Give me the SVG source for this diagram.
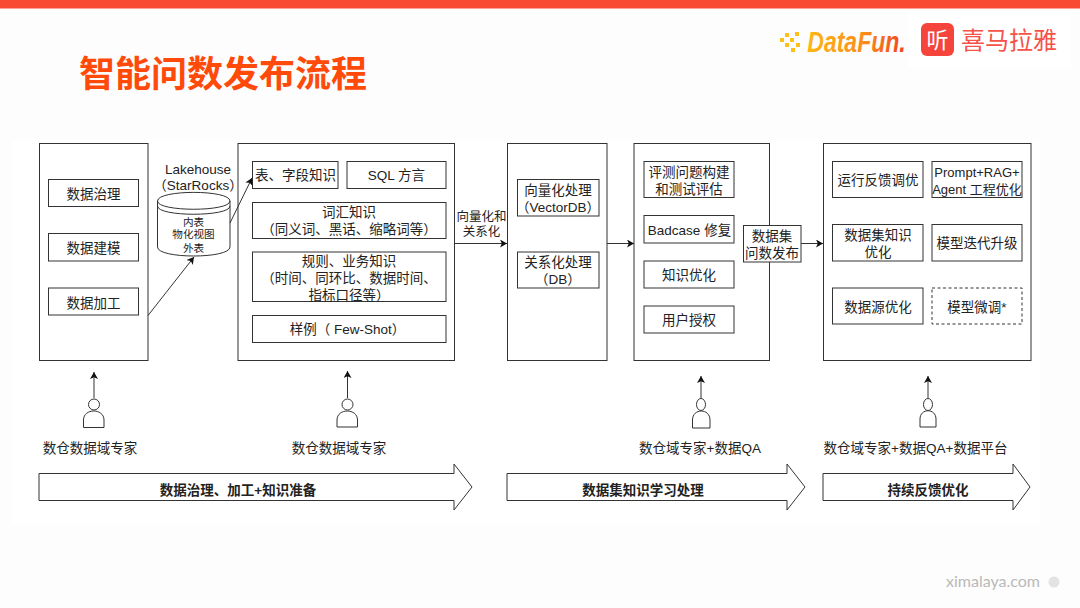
<svg xmlns="http://www.w3.org/2000/svg" width="1080" height="608" viewBox="0 0 1080 608">
<style>
text{font-family:"Liberation Sans","Noto Sans CJK SC",sans-serif;fill:#222;font-size:13.5px;text-anchor:middle}
.b{fill:#fff;stroke:#333;stroke-width:1}
.c{fill:none;stroke:#333;stroke-width:1}
.s{font-size:10.6px}
.h{font-weight:bold}
.m{font-size:12.5px}
.n{font-size:13px}
</style>
<defs>
<marker id="ah" markerWidth="9" markerHeight="9" refX="7" refY="4" orient="auto" markerUnits="userSpaceOnUse"><path d="M0 0L7 4L0 8L1.8 4Z" fill="#111"/></marker>
<linearGradient id="df" x1="0" x2="1" y1="0" y2="0"><stop offset="0" stop-color="#fdb813"/><stop offset="0.6" stop-color="#fb8a1a"/><stop offset="1" stop-color="#f0431e"/></linearGradient>
</defs>
<rect width="1080" height="608" fill="#fdfdfd"/>
<rect width="1080" height="8.5" fill="#f94a34"/>
<rect x="908" y="12" width="163" height="55" fill="#fff"/>
<rect x="12" y="140" width="1028" height="385" fill="#fff"/>
<text x="223" y="87" style="font-size:36px;font-weight:bold;fill:#ff4a0a;font-family:'Noto Sans CJK SC',sans-serif">智能问数发布流程</text>
<g id="logo-datafun">
<g fill="#fdc01a"><rect x="780" y="38" width="4" height="4"/><rect x="785" y="33" width="4" height="4"/><rect x="785" y="43" width="4" height="4"/><rect x="790" y="38" width="4" height="4"/><rect x="791" y="48" width="4" height="4"/><rect x="795" y="32" width="4" height="4"/><rect x="796" y="43" width="4" height="4"/></g>
<text transform="translate(856.500 52) scale(1 1.300)" style="font-size:23px;font-weight:bold;font-style:italic;fill:url(#df)">DataFun.</text>
</g>
<g id="logo-ximalaya">
<rect x="921" y="23" width="33" height="33" rx="6" fill="#f5443c"/>
<text x="937.500" y="48" style="font-size:22px;fill:#fff;font-family:'Noto Sans CJK SC',sans-serif">听</text>
<text x="1009" y="49" style="font-size:24px;fill:#f5524a;font-family:'Noto Sans CJK SC',sans-serif">喜马拉雅</text>
</g>
<g id="footer-mark"><text x="993" y="587" style="font-size:16px;fill:#b9b9b9;font-family:Lato,sans-serif">ximalaya.com</text><circle cx="1054" cy="582" r="5.500" fill="#e3e3e3"/></g>

<g id="panel-1"><rect class="b" x="39.500" y="143.500" width="108.500" height="217"/></g>
<g id="panel-2"><rect class="b" x="238" y="143.500" width="216.500" height="217"/></g>
<g id="panel-3"><rect class="b" x="507.500" y="143.500" width="99.500" height="217"/></g>
<g id="panel-4"><rect class="b" x="634" y="143.500" width="135.500" height="217"/></g>
<g id="panel-5"><rect class="b" x="823.500" y="143.500" width="207.500" height="217"/></g>

<g id="n-zhili"><rect class="b" x="48.500" y="179.500" width="90" height="27"/><text x="93.500" y="199">数据治理</text></g>
<g id="n-jianmo"><rect class="b" x="48.500" y="233.500" width="90" height="27.500"/><text x="93.500" y="253">数据建模</text></g>
<g id="n-jiagong"><rect class="b" x="48.500" y="288" width="90" height="27"/><text x="93.500" y="307.500">数据加工</text></g>

<g id="n-lakehouse">
<text x="198" y="174">Lakehouse</text><text x="198" y="190">（StarRocks）</text>
<path class="b" d="M157.500 201C157.500 189.500 230 189.500 230 201V247C230 259 157.500 259 157.500 247Z"/>
<path class="c" d="M157.500 201C157.500 212 230 212 230 201M157.500 206C157.500 217 230 217 230 206"/>
<text class="s" x="193.500" y="225.500">内表</text><text class="s" x="193.500" y="238">物化视图</text><text class="s" x="193.500" y="251.500">外表</text>
</g>

<g id="n-biao"><rect class="b" x="252.500" y="161.500" width="85.500" height="27"/><text x="295.500" y="180">表、字段知识</text></g>
<g id="n-sql"><rect class="b" x="347" y="161.500" width="99" height="27"/><text x="396.500" y="180">SQL 方言</text></g>
<g id="n-cihui"><rect class="b" x="252.500" y="202.500" width="193.500" height="36"/><text x="349" y="217">词汇知识</text><text x="349" y="234">（同义词、黑话、缩略词等）</text></g>
<g id="n-guize"><rect class="b" x="252.500" y="252" width="193.500" height="49.500"/><text x="349" y="266">规则、业务知识</text><text x="349" y="283">（时间、同环比、数据时间、</text><text x="349" y="299.500">指标口径等）</text></g>
<g id="n-yangli"><rect class="b" x="252.500" y="315.500" width="193.500" height="27"/><text x="347.500" y="334">样例（ Few-Shot）</text></g>

<g id="n-vec"><rect class="b" x="517.500" y="179.500" width="81.500" height="36.500"/><text x="558" y="195">向量化处理</text><text x="558" y="212">（VectorDB）</text></g>
<g id="n-rel"><rect class="b" x="517.500" y="252" width="81.500" height="36"/><text x="558" y="267">关系化处理</text><text x="558" y="284">（DB）</text></g>
<g id="n-label-vec"><text class="m" x="481.500" y="220.500">向量化和</text><text class="m" x="481.500" y="236">关系化</text></g>

<g id="n-pingce"><rect class="b" x="644" y="161.500" width="90" height="36"/><text x="689" y="177">评测问题构建</text><text x="689" y="194">和测试评估</text></g>
<g id="n-badcase"><rect class="b" x="644" y="215.500" width="90" height="27.500"/><text x="689.500" y="235">Badcase 修复</text></g>
<g id="n-zhishi"><rect class="b" x="644" y="261" width="90" height="27"/><text x="689" y="280">知识优化</text></g>
<g id="n-shouquan"><rect class="b" x="644" y="306" width="90" height="27"/><text x="689" y="325">用户授权</text></g>
<g id="n-fabu"><rect class="b" x="743.500" y="225.500" width="57.500" height="36.500"/><text x="772" y="241">数据集</text><text x="772" y="258">问数发布</text></g>

<g id="n-yunxing"><rect class="b" x="832.500" y="161.500" width="90.500" height="36"/><text x="878" y="185">运行反馈调优</text></g>
<g id="n-prompt"><rect class="b" x="932" y="161.500" width="90" height="36"/><text class="n" x="977" y="177">Prompt+RAG+</text><text class="n" x="977" y="194">Agent 工程优化</text></g>
<g id="n-youhua"><rect class="b" x="832.500" y="224.500" width="90.500" height="36.500"/><text x="878" y="240">数据集知识</text><text x="878" y="257">优化</text></g>
<g id="n-diedai"><rect class="b" x="932" y="224.500" width="90" height="36.500"/><text x="977" y="248">模型迭代升级</text></g>
<g id="n-source"><rect class="b" x="832.500" y="288" width="90.500" height="36"/><text x="878" y="312">数据源优化</text></g>
<g id="n-weitiao"><rect class="b" x="932" y="288" width="90" height="36" stroke-dasharray="3 2.500"/><text x="977" y="312">模型微调*</text></g>

<g id="connectors">
<path class="c" marker-end="url(#ah)" d="M148 315.500L194 257"/>
<path class="c" marker-end="url(#ah)" d="M230 223L252 178"/>
<path class="c" marker-end="url(#ah)" d="M455 243.500H507"/>
<path class="c" marker-end="url(#ah)" d="M607 243.500H634"/>
<path class="c" marker-end="url(#ah)" d="M801 243.500H823"/>
<path class="c" marker-end="url(#ah)" d="M94 398V372"/>
<path class="c" marker-end="url(#ah)" d="M347.500 398V371"/>
<path class="c" marker-end="url(#ah)" d="M701 398V376"/>
<path class="c" marker-end="url(#ah)" d="M928 398V376"/>
</g>

<g id="person-1"><circle class="b" cx="94" cy="404.500" r="5.500"/><path class="b" d="M83.500 427.500V420C83.500 408 104 408 104 420V427.500Z"/><text x="90" y="453">数仓数据域专家</text></g>
<g id="person-2"><circle class="b" cx="347.500" cy="404.500" r="5.500"/><path class="b" d="M337 427V420C337 408 357.500 408 357.500 420V427Z"/><text x="339" y="453">数仓数据域专家</text></g>
<g id="person-3"><ellipse class="b" cx="701" cy="404.500" rx="4.500" ry="6"/><path class="b" d="M692.500 428V420C692.500 408 710 408 710 420V428Z"/><text x="700" y="453">数仓域专家+数据QA</text></g>
<g id="person-4"><ellipse class="b" cx="928" cy="404.500" rx="4.500" ry="6"/><path class="b" d="M920 427V419C920 408 936 408 936 419V427Z"/><text x="915.500" y="453">数仓域专家+数据QA+数据平台</text></g>

<g id="phase-1"><path class="b" d="M39 473.500H454V464L472 487L454 510V500.500H39Z"/><text class="h" x="238" y="495">数据治理、加工+知识准备</text></g>
<g id="phase-2"><path class="b" d="M507 473.500H787V464L805 487L787 510V500.500H507Z"/><text class="h" x="643" y="495">数据集知识学习处理</text></g>
<g id="phase-3"><path class="b" d="M823 473.500H1013V464L1030 487L1013 510V500.500H823Z"/><text class="h" x="928" y="495">持续反馈优化</text></g>
</svg>
